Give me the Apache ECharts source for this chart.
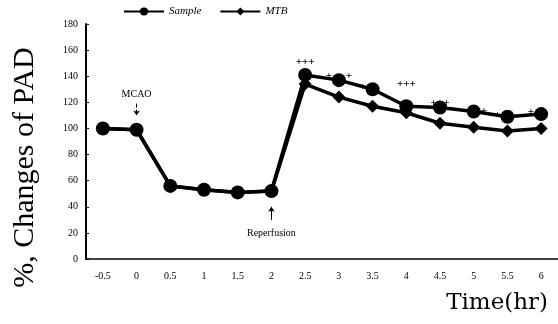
<!DOCTYPE html>
<html>
<head>
<meta charset="utf-8">
<script src="https://cdn.jsdelivr.net/npm/echarts@6/dist/echarts.min.js"></script>
<style>
  html, body { margin: 0; padding: 0; background: #fff; }
  #chart { width: 558px; height: 324px; }
</style>
</head>
<body>
<div id="chart"></div>
<script>
// 时间点（小时）
var times = ['-0.5', '0', '0.5', '1', '1.5', '2', '2.5', '3', '3.5', '4', '4.5', '5', '5.5', '6'];
// 两组数据，%变化
var sampleVals = [100, 99, 56, 53, 51, 52, 141, 137, 130, 117, 116, 113, 109, 111];
var mtbVals = [100, 99, 56, 53, 51, 52, 134, 124, 117, 112, 104, 101, 98, 100];
// 显著性标记
var sigMarks = ['', '', '', '', '', '', '+++', '+     +', '+', '+++', '+++', '+', '+', '+'];
var yTicks = [0, 20, 40, 60, 80, 100, 120, 140, 160, 180];

var serif = '"Liberation Serif", "DejaVu Serif", serif';
var wideSerif = '"DejaVu Serif", serif';
var myChart = echarts.init(document.getElementById('chart'));

// 标记的位置
var sigPos = ['top', 'top', 'top', 'top', 'top', 'top', 'top', 'inside', 'left', 'top', 'inside', 'right', 'left', 'left'];

function sampleData() {
    var arr = [];
    for (var i = 0; i < sampleVals.length; i++) {
        arr.push({
            value: sampleVals[i],
            label: {
                show: sigMarks[i] !== '',
                formatter: sigMarks[i],
                position: sigPos[i],
                distance: sigPos[i] == 'top' ? (i == 9 ? 10 : 0) : 0,
                offset: sigPos[i] == 'inside' ? [0, -4] : (sigPos[i] == 'left' ? [0, -2] : [0, 0])
            }
        });
    }
    return arr;
}

option = {
    animation: false,
    title: {
        text: 'Time(hr)',
        right: 5,
        bottom: 4,
        textStyle: { fontFamily: wideSerif, fontSize: 23, fontWeight: 'normal', color: '#000' }
    },
    legend: {
        data: ['Sample', 'MTB'],
        left: 118,
        top: 1,
        itemWidth: 40,
        itemHeight: 10,
        itemGap: 18,
        textStyle: { fontFamily: serif, fontStyle: 'italic', fontSize: 11, color: '#000' }
    },
    grid: { left: 86, right: 0, top: 24, bottom: 65 },
    xAxis: {
        type: 'category',
        data: times,
        boundaryGap: true,
        axisLine: { lineStyle: { color: '#000', width: 1.5 } },
        axisTick: { inside: true, length: 3, lineStyle: { color: '#000' } },
        axisLabel: { fontFamily: serif, fontSize: 10, color: '#000', margin: 12 }
    },
    yAxis: {
        type: 'value',
        min: 0,
        max: 180,
        interval: 20,
        name: '%, Changes of PAD',
        nameLocation: 'middle',
        nameRotate: 90,
        nameGap: 46,
        nameTextStyle: { fontFamily: serif, fontSize: 30, color: '#000', padding: [0, 52, 0, 0] },
        axisLine: { show: true, lineStyle: { color: '#000', width: 2 } },
        axisTick: { show: true, inside: true, length: 3, lineStyle: { color: '#000' } },
        splitLine: { show: false },
        axisLabel: {
            fontFamily: serif, fontSize: 10, color: '#000', margin: 8,
            formatter: function (v) { return yTicks.indexOf(v) >= 0 ? String(v) : ''; }
        }
    },
    series: [
        {
            name: 'MTB',
            type: 'line',
            data: mtbVals,
            symbol: 'diamond',
            symbolSize: 13,
            z: 2,
            itemStyle: { color: '#000' },
            lineStyle: { color: '#000', width: 3.5 }
        },
        {
            name: 'Sample',
            type: 'line',
            data: sampleData(),
            symbol: 'circle',
            symbolSize: 14,
            z: 3,
            itemStyle: { color: '#000' },
            lineStyle: { color: '#000', width: 3.5 },
            label: { fontFamily: serif, fontSize: 11, fontWeight: 'bold', color: '#000' },
            markLine: {
                silent: true,
                symbol: ['none', 'arrow'],
                symbolSize: 5,
                label: { show: false },
                data: [
                    [{ coord: ['0', 119], lineStyle: { type: 'dashed', width: 1, color: '#000' } }, { coord: ['0', 110] }],
                    [{ coord: ['2', 30], lineStyle: { type: 'solid', width: 1, color: '#000' } }, { coord: ['2', 40] }]
                ]
            },
            markPoint: {
                silent: true,
                symbol: 'circle',
                symbolSize: 0,
                label: { show: true, fontFamily: serif, fontSize: 10, color: '#000' },
                data: [
                    { coord: ['0', 126], label: { formatter: 'MCAO' } },
                    { coord: ['2', 20], label: { formatter: 'Reperfusion' } }
                ]
            }
        }
    ]
};

myChart.setOption(option);
</script>
</body>
</html>
